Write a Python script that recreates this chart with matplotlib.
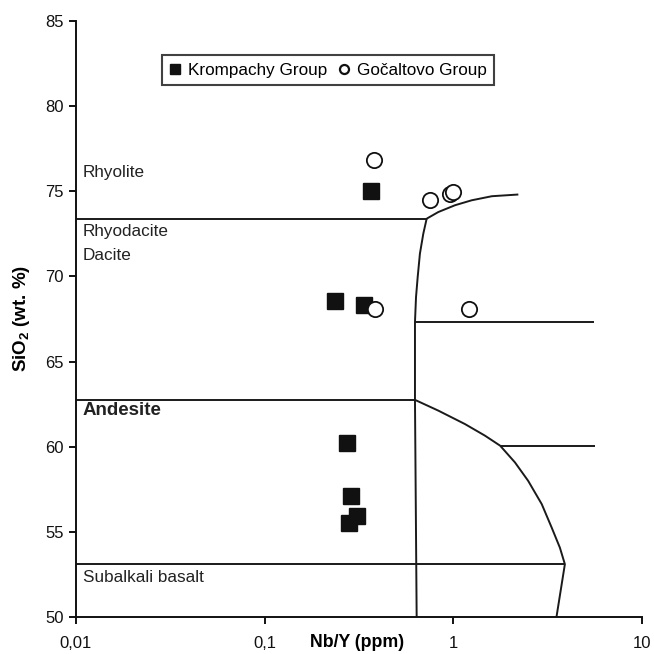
import matplotlib.pyplot as plt
from matplotlib.lines import Line2D
from matplotlib.ticker import FixedLocator, FixedFormatter, NullLocator

plt.rcParams['font.family'] = ['Liberation Sans', 'DejaVu Sans']
plt.rcParams['mathtext.fontset'] = 'custom'
plt.rcParams['mathtext.rm'] = 'Liberation Sans'
plt.rcParams['mathtext.bf'] = 'Liberation Sans:bold'

# sample data (Nb/Y, SiO2)
krompachy_x = [0.366, 0.236, 0.337, 0.272, 0.286, 0.307, 0.280]
krompachy_y = [75.0, 68.55, 68.35, 60.2, 57.1, 55.95, 55.5]
gocaltovo_x = [0.381, 0.751, 0.960, 1.00, 0.386, 1.21]
gocaltovo_y = [76.86, 74.5, 74.82, 74.96, 68.06, 68.06]

# field boundaries (Winchester & Floyd)
bound_rhyolite_x = [0.01, 0.722]
bound_rhyolite_y = [73.39, 73.39]
bound_andesite_x = [0.01, 0.626]
bound_andesite_y = [62.75, 62.75]
bound_basalt_x = [0.01, 3.90]
bound_basalt_y = [53.1, 53.1]
bound_vert_x = [0.639, 0.626, 0.626, 0.634, 0.647, 0.665, 0.693, 0.722]
bound_vert_y = [50.0, 62.75, 67.31, 68.78, 69.96, 71.34, 72.51, 73.39]
bound_comend_x = [0.722, 0.832, 1.02, 1.25, 1.60, 2.21]
bound_comend_y = [73.39, 73.78, 74.18, 74.47, 74.71, 74.81]
bound_trach_x = [0.626, 5.56]
bound_trach_y = [67.31, 67.31]
bound_phon_x = [1.77, 5.6]
bound_phon_y = [60.06, 60.06]
bound_curve_x = [0.626, 0.832, 1.152, 1.47, 1.77, 2.12, 2.49, 2.94, 3.32, 3.67, 3.90, 3.52]
bound_curve_y = [62.75, 62.12, 61.33, 60.65, 60.06, 59.08, 58.0, 56.63, 55.25, 54.07, 53.1, 50.0]

region_names = ['Rhyolite', 'Rhyodacite', 'Dacite', 'Andesite', 'Subalkali basalt']
region_y = [76.1, 72.65, 71.2, 62.1, 52.3]

xticks = [0.01, 0.1, 1, 10]
xtick_labels = ['0,01', '0,1', '1', '10']
yticks = [50, 55, 60, 65, 70, 75, 80, 85]

fig = plt.figure(figsize=(6.54, 6.54), dpi=100)
ax = fig.add_axes([0.1162, 0.0566, 0.8655, 0.9113])

lw = 1.4
for bx, by in [(bound_rhyolite_x, bound_rhyolite_y),
               (bound_andesite_x, bound_andesite_y),
               (bound_basalt_x, bound_basalt_y),
               (bound_vert_x, bound_vert_y),
               (bound_comend_x, bound_comend_y),
               (bound_trach_x, bound_trach_y),
               (bound_phon_x, bound_phon_y),
               (bound_curve_x, bound_curve_y)]:
    ax.plot(bx, by, color='#1a1a1a', lw=lw, solid_capstyle='butt',
            solid_joinstyle='round', zorder=2)

ax.plot(krompachy_x, krompachy_y, ls='none', marker='s', ms=11,
        mfc='#111111', mec='#111111', mew=1.0, zorder=3)
ax.plot(gocaltovo_x, gocaltovo_y, ls='none', marker='o', ms=11,
        mfc='white', mec='#111111', mew=1.3, zorder=4)

for name, yy in zip(region_names, region_y):
    bold = name == 'Andesite'
    ax.text(0.012, yy, name, transform=ax.get_yaxis_transform(),
            fontsize=13.5 if bold else 12.3,
            fontweight='bold' if bold else 'normal',
            ha='left', va='center', color='#222222')

ax.set_xscale('log')
ax.set_xlim(0.01, 10)
ax.set_ylim(50, 85)
ax.xaxis.set_major_locator(FixedLocator(xticks))
ax.xaxis.set_major_formatter(FixedFormatter(xtick_labels))
ax.xaxis.set_minor_locator(NullLocator())
ax.set_yticks(yticks)

for side in ['top', 'right']:
    ax.spines[side].set_visible(False)
for side in ['left', 'bottom']:
    ax.spines[side].set_linewidth(lw)
    ax.spines[side].set_color('#111111')
ax.tick_params(direction='out', length=5, width=lw, labelsize=12,
               colors='#111111', pad=9)
ax.tick_params(axis='y', pad=4)

ax.set_xlabel('Nb/Y (ppm)', fontsize=12.8, fontweight='bold')
ax.xaxis.set_label_coords(0.497, -0.042)
ax.xaxis.label.set_va('center')
ax.set_ylabel('SiO$_\\mathbf{2}$ (wt. %)', fontsize=13.5, fontweight='bold')
ax.yaxis.set_label_coords(-0.078, 0.5)

handles = [Line2D([], [], ls='none', marker='s', ms=7, mfc='#111111',
                  mec='#111111', label='Krompachy Group'),
           Line2D([], [], ls='none', marker='o', ms=6.5, mfc='white',
                  mec='#111111', mew=1.6, label='Gočaltovo Group')]
leg = ax.legend(handles=handles, loc='upper left', bbox_to_anchor=(0.152, 0.943),
                ncol=2, frameon=True, fancybox=False, fontsize=12.3,
                handlelength=0.6, handletextpad=0.45, columnspacing=0.7,
                borderpad=0.45, borderaxespad=0)
leg.get_frame().set_edgecolor('#111111')
leg.get_frame().set_linewidth(1.5)

fig.savefig('out.png', dpi=100)
